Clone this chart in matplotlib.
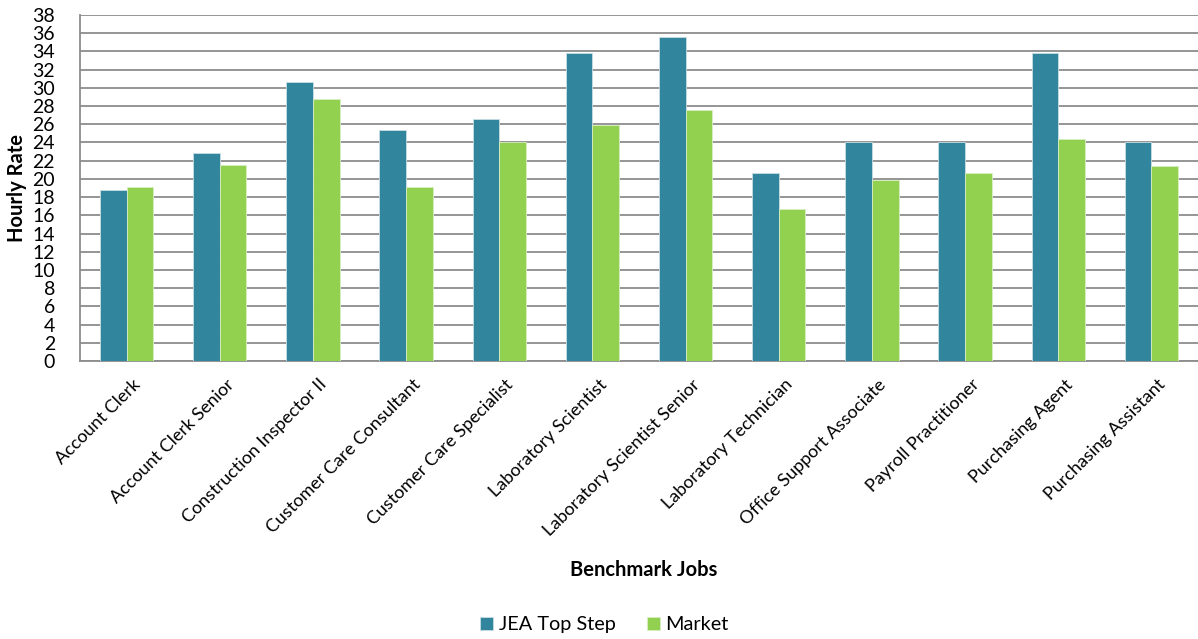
import numpy as np
import matplotlib
matplotlib.use('Agg')
import matplotlib.pyplot as plt
import matplotlib.transforms as mtransforms

plt.rcParams['font.family'] = ['Lato', 'DejaVu Sans']

# hourly rates per benchmark job
jobs = ['Account Clerk', 'Account Clerk Senior', 'Construction Inspector II',
        'Customer Care Consultant', 'Customer Care Specialist', 'Laboratory Scientist',
        'Laboratory Scientist Senior', 'Laboratory Technician', 'Office Support Associate',
        'Payroll Practitioner', 'Purchasing Agent', 'Purchasing Assistant']
jea_top = [18.8, 22.8, 30.6, 25.4, 26.6, 33.8, 35.6, 20.7, 24.0, 24.0, 33.8, 24.0]
market = [19.1, 21.5, 28.8, 19.1, 24.1, 25.9, 27.6, 16.7, 19.9, 20.7, 24.4, 21.4]

fig = plt.figure(figsize=(11.98, 6.39), dpi=100)
ax = fig.add_axes([0.0668, 0.435, 0.9332, 0.5415])

x = np.arange(len(jobs))
w = 0.286
ax.bar(x - w / 2, jea_top, w, color='#31859C', edgecolor='#c9dde3', linewidth=0.6,
       label='JEA Top Step', zorder=3)
ax.bar(x + w / 2, market, w, color='#92D050', edgecolor='#d8eec4', linewidth=0.6,
       label='Market', zorder=3)

ax.set_xlim(-0.5, len(jobs) - 0.5)
ax.set_ylim(0, 38)
ax.set_yticks(np.arange(0, 39, 2))
ax.yaxis.grid(True, color='#8c8c8c', linewidth=1.3, zorder=0)
ax.set_axisbelow(True)

for s in ['top', 'right']:
    ax.spines[s].set_visible(False)
for s in ['left', 'bottom']:
    ax.spines[s].set_color('#8c8c8c')
    ax.spines[s].set_linewidth(1.3)

ax.tick_params(axis='y', length=0, pad=18, labelsize=14)
ax.tick_params(axis='x', length=0, pad=11)
ax.set_xticks(x)
ax.set_xticklabels(jobs, rotation=45, ha='right', rotation_mode='anchor', fontsize=13)
# nudge the rotated labels a bit to the right
shift = mtransforms.ScaledTranslation(6 / 100, 0, fig.dpi_scale_trans)
for lbl in ax.get_xticklabels():
    lbl.set_transform(lbl.get_transform() + shift)

ax.set_ylabel('Hourly Rate', fontsize=14.5, fontweight='bold', labelpad=4)
fig.text(0.5376, 0.108, 'Benchmark Jobs', ha='center', va='center', fontsize=14.5, fontweight='bold')

ax.legend(loc='center', bbox_to_anchor=(0.5046, 0.022), bbox_transform=fig.transFigure,
          ncol=2, frameon=False, fontsize=14.3, handlelength=0.62, handleheight=0.62,
          handletextpad=0.3, columnspacing=1.6)

fig.savefig('out.png', dpi=100)
